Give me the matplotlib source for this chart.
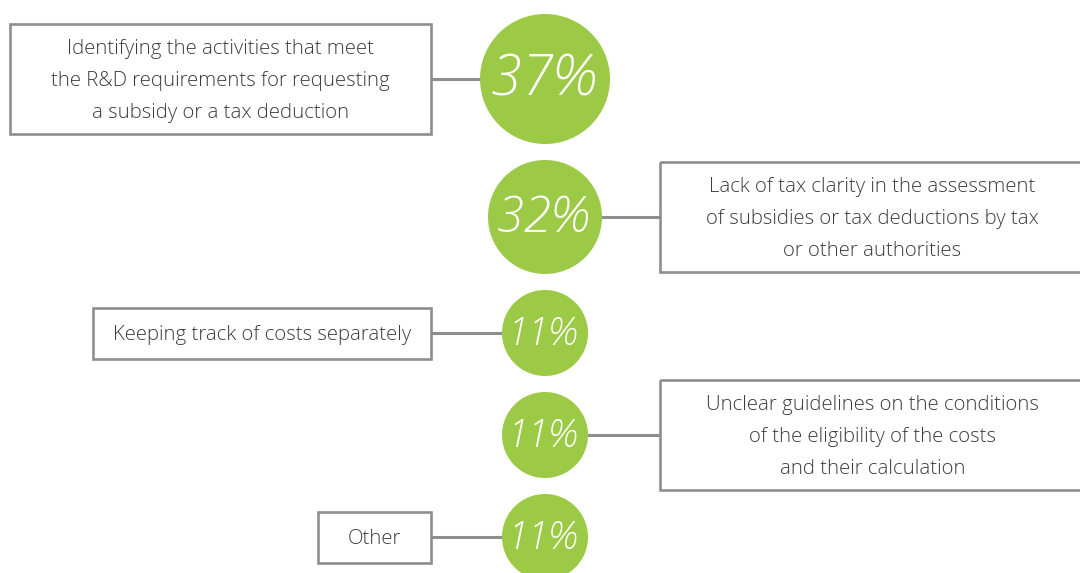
import matplotlib.pyplot as plt
from matplotlib.patches import Circle, Rectangle

# data
labels = [
    "Identifying the activities that meet\nthe R&D requirements for requesting\na subsidy or a tax deduction",
    "Lack of tax clarity in the assessment\nof subsidies or tax deductions by tax\nor other authorities",
    "Keeping track of costs separately",
    "Unclear guidelines on the conditions\nof the eligibility of the costs\nand their calculation",
    "Other",
]
values = [37, 32, 11, 11, 11]
sides = ["left", "right", "left", "right", "left"]

# layout (pixel units, figure is 1080x573)
radii = [65, 57, 43, 43, 43]
box_widths = [421, 425, 338, 425, 113]
cx = 545
top = 14
gap = 16
left_box_right = 431
right_box_left = 660

GREEN = "#9cc946"
GREY = "#8e8e90"
TEXT = "#3c3c3c"
plt.rcParams["font.family"] = ["Open Sans", "DejaVu Sans"]

fig = plt.figure(figsize=(10.8, 5.73), dpi=100)
ax = fig.add_axes([0, 0, 1, 1])
ax.set_xlim(0, 1080); ax.set_ylim(573, 0); ax.axis("off")

y = top
for i, (lab, v, side) in enumerate(zip(labels, values, sides)):
    r = radii[i]
    cy = y + r
    n = lab.count("\n") + 1
    h = 110 if n > 1 else 51
    if side == "left":
        x0 = left_box_right - box_widths[i]
        ax.plot([left_box_right, cx - r + 2], [cy, cy], color=GREY, lw=2.2, zorder=1, solid_capstyle="butt")
    else:
        x0 = right_box_left
        ax.plot([cx + r - 2, right_box_left], [cy, cy], color=GREY, lw=2.2, zorder=1, solid_capstyle="butt")
    ax.add_patch(Rectangle((x0, cy - h / 2), box_widths[i], h, fill=False, edgecolor=GREY, lw=1.9, zorder=2))
    ax.text(x0 + box_widths[i] / 2, cy + 2, lab, ha="center", va="center", color=TEXT,
            fontsize=14.7, linespacing=1.8, fontweight="light", zorder=3)
    ax.add_patch(Circle((cx, cy), r, facecolor=GREEN, edgecolor="none", zorder=4))
    ax.text(cx - 2, cy + 2, f"{v}%", ha="center", va="center", color="white", style="italic",
            fontweight="light", fontsize=r * 0.63, zorder=5)
    y = cy + r + gap

fig.savefig("out.png", dpi=100)
